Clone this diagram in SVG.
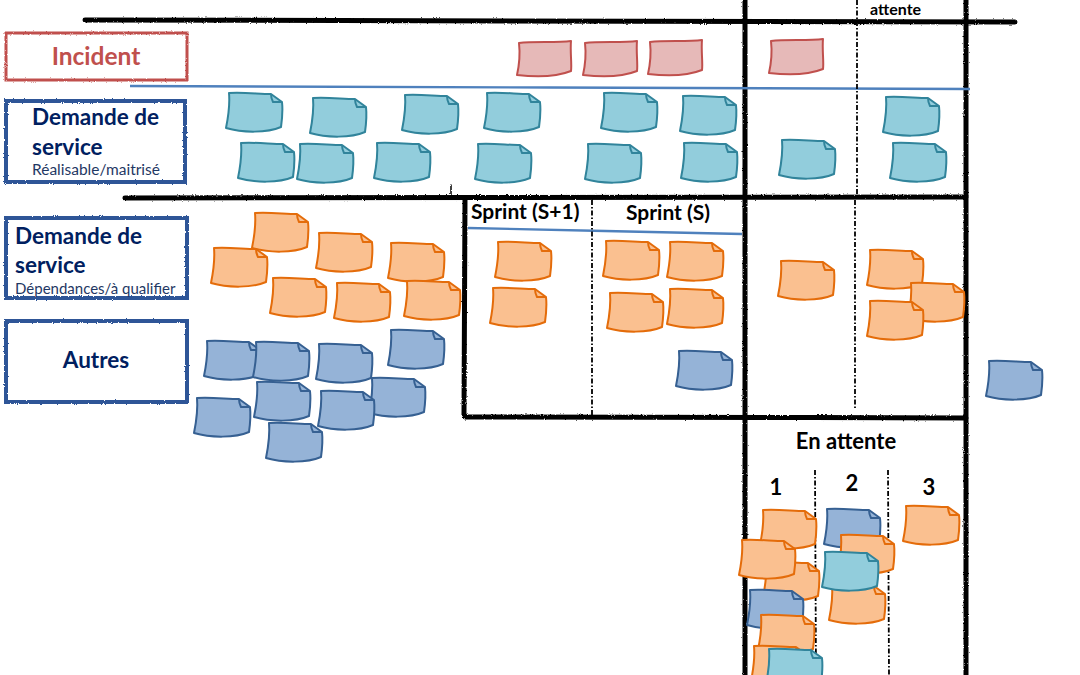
<svg xmlns="http://www.w3.org/2000/svg" xmlns:xlink="http://www.w3.org/1999/xlink" width="1080" height="675" viewBox="0 0 1080 675">
<style>
.rough{stroke:#000;fill:none;stroke-linecap:round;filter:url(#rough)}
.thick{stroke-width:5}
.dash{stroke:#000;stroke-width:1.8;fill:none;stroke-dasharray:5 2 1.5 2}
.blueline{stroke:#4f81bd;stroke-width:2.4;fill:none}
.n{stroke-width:2;stroke-linejoin:round}
.red{fill:#e6b9b8;stroke:#c0504d}
.cyan{fill:#92cddc;stroke:#31849b}
.orange{fill:#fac090;stroke:#e46c0a}
.blue{fill:#95b3d7;stroke:#366092}
.lbl{fill:#fff;stroke:#2f5597;stroke-width:4;filter:url(#rough)}
.lblred{fill:#fff;stroke:#c0504d;stroke-width:3;filter:url(#rough)}
.t{font-family:Lato,"Liberation Sans",sans-serif;font-weight:bold}
.navy{fill:#002060}
.sub{font-family:Lato,"Liberation Sans",sans-serif;font-weight:normal;fill:#1f3864}
</style>
<defs>
<filter id="rough" filterUnits="userSpaceOnUse" x="0" y="0" width="1080" height="675">
<feTurbulence type="fractalNoise" baseFrequency="0.9" numOctaves="2" seed="3"/>
<feDisplacementMap in="SourceGraphic" scale="2.4" xChannelSelector="R" yChannelSelector="G"/>
</filter>
<g id="note">
<path class="n" d="M4,1 C18,0 34,2 46,2 L57,10 C58,19 57,28 56,35 C42,41 18,41 1,36 C3,26 5,12 4,1 Z"/>
<path class="n" fill="none" d="M46,2 C46,5 47,8 48,10 L57,10"/>
</g>
<g id="inote">
<path class="n" d="M3,3 C18,1 40,3 55,1 C54,12 56,24 55,31 C40,37 18,37 1,35 C3,26 4,12 3,3 Z"/>
</g>
</defs>
<rect width="1080" height="675" fill="#fff"/>

<g id="connectors">
<path class="rough thick" d="M85,20 C300,19 600,21 1015,22"/>
<path class="rough thick" d="M125,198 C400,197 700,198 966,197"/>
<path class="rough thick" d="M745,0 L745,675"/>
<path class="rough thick" d="M966,0 L966,675"/>
<path class="rough thick" d="M465,198 L464,415"/>
<path class="rough thick" d="M465,417 C650,418 800,417 966,418"/>
<path class="rough" stroke-width="1.5" d="M451,185 L451,197"/>
<path class="blueline" d="M130,86 C400,87 700,88 970,89"/>
<path class="blueline" d="M468,228 C560,230 650,232 742,234"/>
<path class="dash" d="M857,0 L857,198"/>
<path class="dash" d="M855,200 L855,410"/>
<path class="dash" d="M592,200 L592,415"/>
<path class="dash" d="M815,470 L816,675"/>
<path class="dash" d="M888,470 L889,675"/>
</g>

<g id="label-incident">
<rect class="lblred" x="6" y="33" width="181" height="47"/>
<text class="t" x="96" y="65" font-size="24.5" fill="#c0504d" text-anchor="middle">Incident</text>
</g>
<g id="label-demande1">
<rect class="lbl" x="6" y="101" width="179" height="81"/>
<text class="t navy" x="32" y="125" font-size="22.5">Demande de</text>
<text class="t navy" x="32" y="155" font-size="22.5">service</text>
<text class="sub" x="32" y="175" font-size="15.5">Réalisable/maitrisé</text>
</g>
<g id="label-demande2">
<rect class="lbl" x="6" y="218" width="181" height="80"/>
<text class="t navy" x="15" y="244" font-size="22.5">Demande de</text>
<text class="t navy" x="15" y="273" font-size="22.5">service</text>
<text class="sub" x="15" y="294" font-size="15">Dépendances/à qualifier</text>
</g>
<g id="label-autres">
<rect class="lbl" x="6" y="321" width="181" height="81"/>
<text class="t navy" x="96" y="368" font-size="22.5" text-anchor="middle">Autres</text>
</g>

<g id="headers">
<text class="t" x="870" y="15" font-size="16">attente</text>
<text class="t" x="471" y="219" font-size="21">Sprint (S+1)</text>
<text class="t" x="626" y="220" font-size="21">Sprint (S)</text>
<text class="t" x="846" y="449" font-size="22" text-anchor="middle">En attente</text>
<text class="t" x="776" y="495" font-size="22" text-anchor="middle">1</text>
<text class="t" x="852" y="491" font-size="22" text-anchor="middle">2</text>
<text class="t" x="929" y="495" font-size="22" text-anchor="middle">3</text>
</g>

<g id="notes-incident">
<use href="#inote" class="red" x="516" y="40"/>
<use href="#inote" class="red" x="582" y="40"/>
<use href="#inote" class="red" x="647" y="39"/>
<use href="#inote" class="red" x="768" y="38"/>
</g>

<g id="notes-service">
<use href="#note" class="cyan" x="225" y="92"/>
<use href="#note" class="cyan" x="309" y="97"/>
<use href="#note" class="cyan" x="401" y="94"/>
<use href="#note" class="cyan" x="483" y="92"/>
<use href="#note" class="cyan" x="600" y="92"/>
<use href="#note" class="cyan" x="679" y="95"/>
<use href="#note" class="cyan" x="882" y="96"/>
<use href="#note" class="cyan" x="237" y="142"/>
<use href="#note" class="cyan" x="296" y="143"/>
<use href="#note" class="cyan" x="373" y="142"/>
<use href="#note" class="cyan" x="474" y="143"/>
<use href="#note" class="cyan" x="584" y="143"/>
<use href="#note" class="cyan" x="680" y="142"/>
<use href="#note" class="cyan" x="778" y="139"/>
<use href="#note" class="cyan" x="889" y="142"/>
</g>

<g id="notes-dependances">
<use href="#note" class="orange" x="251" y="212"/>
<use href="#note" class="orange" x="210" y="247"/>
<use href="#note" class="orange" x="315" y="232"/>
<use href="#note" class="orange" x="387" y="242"/>
<use href="#note" class="orange" x="269" y="277"/>
<use href="#note" class="orange" x="333" y="282"/>
<use href="#note" class="orange" x="403" y="280"/>
<use href="#note" class="orange" x="494" y="241"/>
<use href="#note" class="orange" x="489" y="287"/>
<use href="#note" class="orange" x="602" y="240"/>
<use href="#note" class="orange" x="666" y="241"/>
<use href="#note" class="orange" x="606" y="292"/>
<use href="#note" class="orange" x="666" y="288"/>
<use href="#note" class="orange" x="777" y="260"/>
<use href="#note" class="orange" x="866" y="249"/>
<use href="#note" class="orange" x="907" y="282"/>
<use href="#note" class="orange" x="866" y="300"/>
</g>

<g id="notes-autres">
<use href="#note" class="blue" x="203" y="340"/>
<use href="#note" class="blue" x="252" y="341"/>
<use href="#note" class="blue" x="315" y="343"/>
<use href="#note" class="blue" x="387" y="329"/>
<use href="#note" class="blue" x="193" y="397"/>
<use href="#note" class="blue" x="253" y="381"/>
<use href="#note" class="blue" x="368" y="377"/>
<use href="#note" class="blue" x="317" y="390"/>
<use href="#note" class="blue" x="265" y="422"/>
<use href="#note" class="blue" x="675" y="350"/>
<use href="#note" class="blue" x="985" y="360"/>
</g>

<g id="notes-attente">
<use href="#note" class="orange" x="759" y="509"/>
<use href="#note" class="orange" x="762" y="561"/>
<use href="#note" class="orange" x="738" y="539"/>
<use href="#note" class="blue" x="746" y="589"/>
<use href="#note" class="orange" x="757" y="614"/>
<use href="#note" class="orange" x="750" y="645"/>
<use href="#note" class="cyan" x="765" y="648"/>
<use href="#note" class="blue" x="823" y="508"/>
<use href="#note" class="orange" x="837" y="534"/>
<use href="#note" class="orange" x="828" y="584"/>
<use href="#note" class="cyan" x="821" y="551"/>
<use href="#note" class="orange" x="902" y="505"/>
</g>
</svg>
